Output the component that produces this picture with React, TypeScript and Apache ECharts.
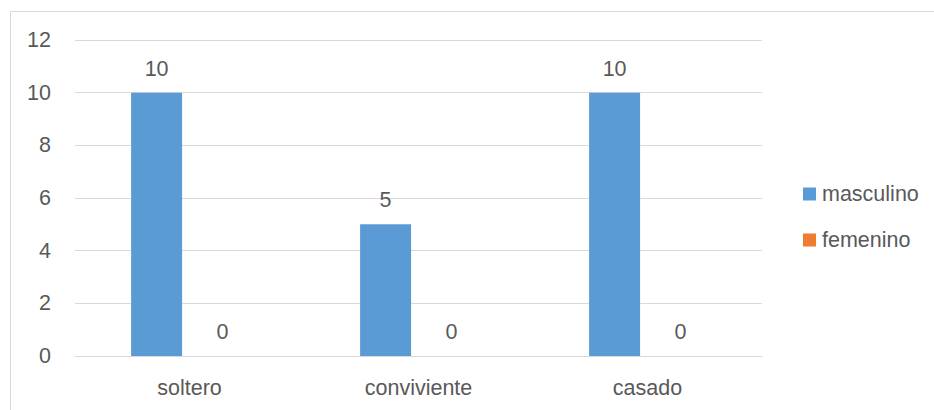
import React, { useEffect, useRef } from "react";
import * as echarts from "echarts";

const categories = ["soltero", "conviviente", "casado"];
const masculino = [10, 5, 10];
const femenino = [0, 0, 0];
const seriesNames = ["masculino", "femenino"];

const FONT = "'Liberation Sans', Arial, sans-serif";
const TEXT = "#595959";
const GRID = "#d9d9d9";
const FS = 21.5;

export default function App() {
  const ref = useRef<HTMLDivElement>(null);
  useEffect(() => {
    if (!ref.current) return;
    const chart = echarts.init(ref.current, undefined, { renderer: "svg" });
    const label = {
      show: true,
      position: "top" as const,
      distance: 13,
      color: TEXT,
      fontSize: FS,
      fontFamily: FONT,
    };
    chart.setOption({
      animation: false,
      backgroundColor: "#ffffff",
      textStyle: { fontFamily: FONT },
      graphic: [
        {
          type: "rect",
          shape: { x: 10.5, y: 11.5, width: 1000, height: 1000 },
          style: { fill: "none", stroke: GRID, lineWidth: 1 },
          silent: true,
          z: -1,
        },
      ],
      grid: { left: 75, right: 172, top: 40, bottom: 54, containLabel: false },
      legend: {
        orient: "vertical",
        left: 803,
        top: 183,
        padding: 0,
        itemWidth: 13,
        itemHeight: 13,
        itemGap: 24,
        icon: "rect",
        data: seriesNames,
        textStyle: { color: TEXT, fontSize: FS, fontFamily: FONT, padding: [0, 0, 0, 1] },
      },
      xAxis: {
        type: "category",
        data: categories,
        axisLine: { show: true, lineStyle: { color: GRID, width: 1 } },
        axisTick: { show: false },
        axisLabel: { color: TEXT, fontSize: FS, fontFamily: FONT, margin: 21 },
      },
      yAxis: {
        type: "value",
        min: 0,
        max: 12,
        interval: 2,
        axisLine: { show: false },
        axisTick: { show: false },
        splitLine: { lineStyle: { color: GRID, width: 1 } },
        axisLabel: { color: TEXT, fontSize: FS, fontFamily: FONT, margin: 24 },
      },
      series: [
        {
          name: seriesNames[0],
          type: "bar",
          data: masculino,
          barWidth: 51,
          barGap: "29%",
          itemStyle: { color: "#5B9BD5" },
          label,
        },
        {
          name: seriesNames[1],
          type: "bar",
          data: femenino,
          barWidth: 51,
          itemStyle: { color: "#ED7D31" },
          label,
        },
      ],
    });
    return () => chart.dispose();
  }, []);
  return (
    <div
      ref={ref}
      style={{ position: "absolute", left: 0, top: 0, width: 934, height: 410 }}
    />
  );
}
